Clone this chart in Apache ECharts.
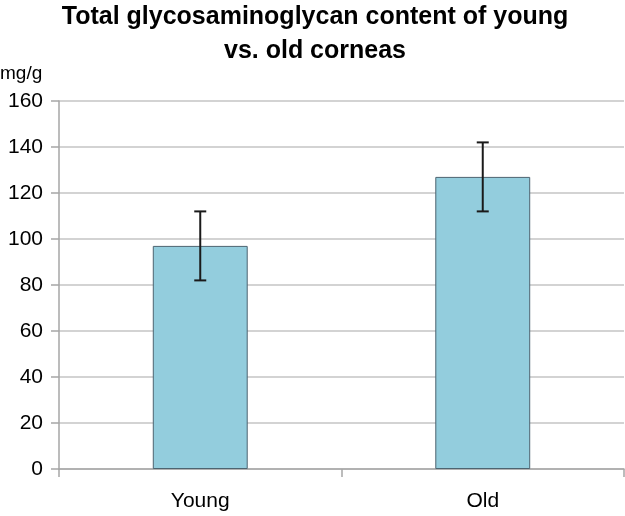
<!DOCTYPE html>
<html>
<head>
<meta charset="utf-8">
<script src="https://cdn.jsdelivr.net/npm/echarts@6/dist/echarts.min.js"></script>
<style>
  html, body { margin: 0; padding: 0; background: #fff; }
  #chart { width: 625px; height: 516px; }
</style>
</head>
<body>
<div id="chart"></div>
<script>
// data
var categories = ['Young', 'Old'];
var values = [97, 127];
var errLow = [82, 112];
var errHigh = [112, 142];
var yTicks = [0, 20, 40, 60, 80, 100, 120, 140, 160];

var errData = categories.map(function (c, i) { return [i, errLow[i], errHigh[i]]; });

var chart = echarts.init(document.getElementById('chart'));
var option = {
  animation: false,
  textStyle: { fontFamily: 'Liberation Sans, Arial, sans-serif' },
  title: {
    text: 'Total glycosaminoglycan content of young\nvs. old corneas',
    left: 310,
    textAlign: 'center',
    top: -5,
    textStyle: { fontSize: 25, fontWeight: 'bold', color: '#000', lineHeight: 34 }
  },
  graphic: [{
    type: 'text',
    left: 0,
    top: 64,
    style: { text: 'mg/g', fontSize: 19, fill: '#000', fontFamily: 'Liberation Sans, Arial, sans-serif' }
  }],
  grid: { left: 59, right: 1, top: 101, bottom: 47 },
  xAxis: {
    type: 'category',
    data: categories,
    axisLine: { lineStyle: { color: '#a6a6a6', width: 1.5 } },
    axisTick: { show: true, length: 8, lineStyle: { color: '#a6a6a6', width: 1.5 } },
    axisLabel: { color: '#000', fontSize: 21, margin: 22 }
  },
  yAxis: {
    type: 'value',
    min: yTicks[0],
    max: yTicks[yTicks.length - 1],
    interval: 20,
    axisLine: { show: true, lineStyle: { color: '#a6a6a6', width: 1.5 } },
    axisTick: { show: true, length: 8, lineStyle: { color: '#a6a6a6', width: 1.5 } },
    axisLabel: { color: '#000', fontSize: 21, margin: 16 },
    splitLine: { lineStyle: { color: '#c4c4c4', width: 1.5 } }
  },
  series: [{
    type: 'bar',
    data: values,
    barWidth: '33.6%',
    itemStyle: { color: '#93cddd', borderColor: '#4d6470', borderWidth: 1 }
  }, {
    type: 'custom',
    data: errData,
    z: 10,
    renderItem: function (params, api) {
      var x = api.value(0);
      var lo = api.coord([x, api.value(1)]);
      var hi = api.coord([x, api.value(2)]);
      var w = 6;
      var st = { stroke: '#1a1a1a', lineWidth: 2 };
      return {
        type: 'group',
        children: [
          { type: 'line', shape: { x1: hi[0], y1: hi[1], x2: lo[0], y2: lo[1] }, style: st },
          { type: 'line', shape: { x1: hi[0] - w, y1: hi[1], x2: hi[0] + w, y2: hi[1] }, style: st },
          { type: 'line', shape: { x1: lo[0] - w, y1: lo[1], x2: lo[0] + w, y2: lo[1] }, style: st }
        ]
      };
    }
  }]
};
chart.setOption(option);
</script>
</body>
</html>
